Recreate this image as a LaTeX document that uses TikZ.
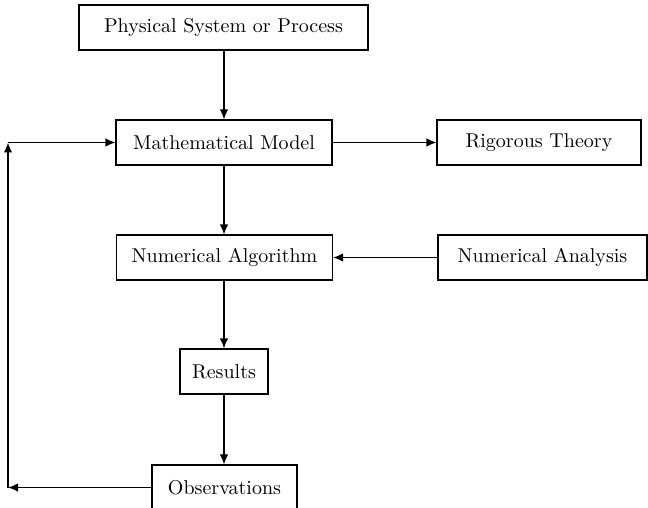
\documentclass[tikz,border=0pt]{standalone}
\usetikzlibrary{arrows.meta}
\begin{document}
\begin{tikzpicture}[x=0.5pt,y=-0.5pt,
  box/.style={draw, line width=0.6pt, minimum height=22.5pt, inner sep=0pt, font=\fontsize{10}{12}\selectfont},
  conn/.style={line width=0.6pt, -{Latex[length=5pt,width=4.2pt]}}]
\useasboundingbox (0,0) rectangle (648,508);
\node[box, minimum width=144.5pt] (phys) at (223.5,27.5) {Physical System or Process};
\node[box, minimum width=108pt] (math) at (224,142.5) {Mathematical Model};
\node[box, minimum width=102pt] (rig) at (539,142.5) {Rigorous Theory};
\node[box, minimum width=108pt] (alg) at (224.5,257.5) {Numerical Algorithm};
\node[box, minimum width=104.5pt] (ana) at (542.5,257.5) {Numerical Analysis};
\node[box, minimum width=44pt] (res) at (224,371.5) {Results};
\node[box, minimum width=72.5pt] (obs) at (224.5,487.5) {Observations};
\coordinate (bl) at (8,487.5);
\coordinate (tl) at (8,142.5);
\draw[conn] (phys.south -| math.north) -- (math.north);
\draw[conn] (math.south) -- (math.south |- alg.north);
\draw[conn] (math.south |- alg.south) -- (math.south |- res.north);
\draw[conn] (res.south) -- (res.south |- obs.north);
\draw[conn] (math.east) -- (rig.west);
\draw[conn] (ana.west) -- (alg.east);
\draw[conn] (obs.west) -- (bl);
\draw[conn] (bl) -- (tl);
\draw[conn] (tl) -- (math.west);
\end{tikzpicture}
\end{document}
